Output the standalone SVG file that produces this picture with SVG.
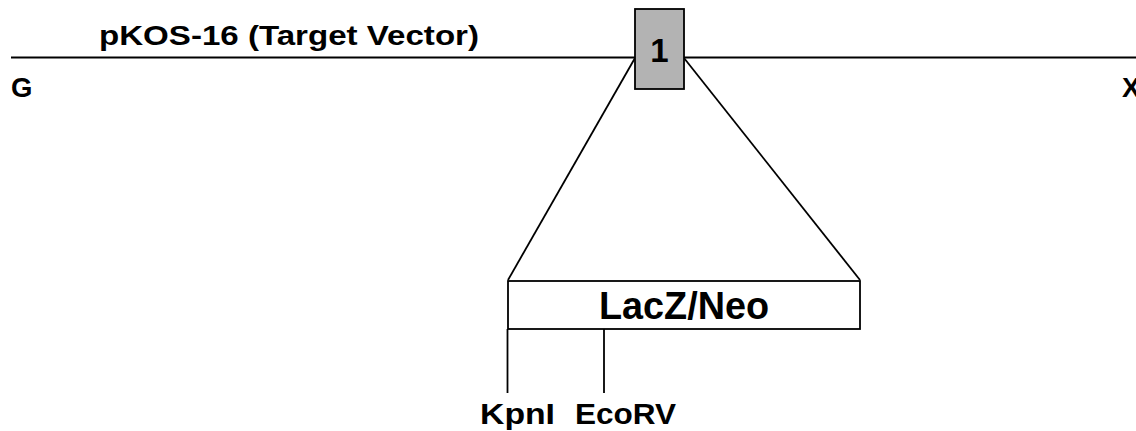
<svg xmlns="http://www.w3.org/2000/svg" width="1136" height="431" viewBox="0 0 1136 431">
<style>
.ln{stroke:#000;stroke-width:1.8;fill:none}
.t{font-family:"Liberation Sans",Arial,sans-serif;font-weight:bold;fill:#000}
</style>
<rect width="1136" height="431" fill="#fff"/>
<g id="connectors">
<line class="ln" x1="11" y1="57.5" x2="1136" y2="57.5"/>
<line class="ln" x1="635" y1="58" x2="508" y2="280"/>
<line class="ln" x1="684" y1="58" x2="860" y2="280"/>
<line class="ln" x1="507.5" y1="329" x2="507.5" y2="393"/>
<line class="ln" x1="604" y1="329" x2="604" y2="393"/>
</g>
<g id="title"><text class="t" x="99" y="44.5" font-size="27.5" textLength="380" lengthAdjust="spacingAndGlyphs">pKOS-16 (Target Vector)</text></g>
<g id="labelG"><text class="t" x="11" y="97" font-size="27.5">G</text></g>
<g id="labelX"><text class="t" x="1122" y="97" font-size="27.5">X</text></g>
<g id="exon1">
<rect x="635" y="9" width="49" height="80" fill="#b3b3b3" stroke="#000" stroke-width="1.8"/>
<text class="t" x="659.5" y="62" font-size="33" text-anchor="middle">1</text>
</g>
<g id="lacz">
<rect x="508" y="281" width="352" height="48" fill="#fff" stroke="#000" stroke-width="1.8"/>
<text class="t" x="684" y="319" font-size="38.5" text-anchor="middle" textLength="170" lengthAdjust="spacingAndGlyphs">LacZ/Neo</text>
</g>
<g id="kpni"><text class="t" x="480" y="423.5" font-size="29" textLength="75" lengthAdjust="spacingAndGlyphs">KpnI</text></g>
<g id="ecorv"><text class="t" x="575" y="423.5" font-size="29" textLength="101" lengthAdjust="spacingAndGlyphs">EcoRV</text></g>
</svg>
